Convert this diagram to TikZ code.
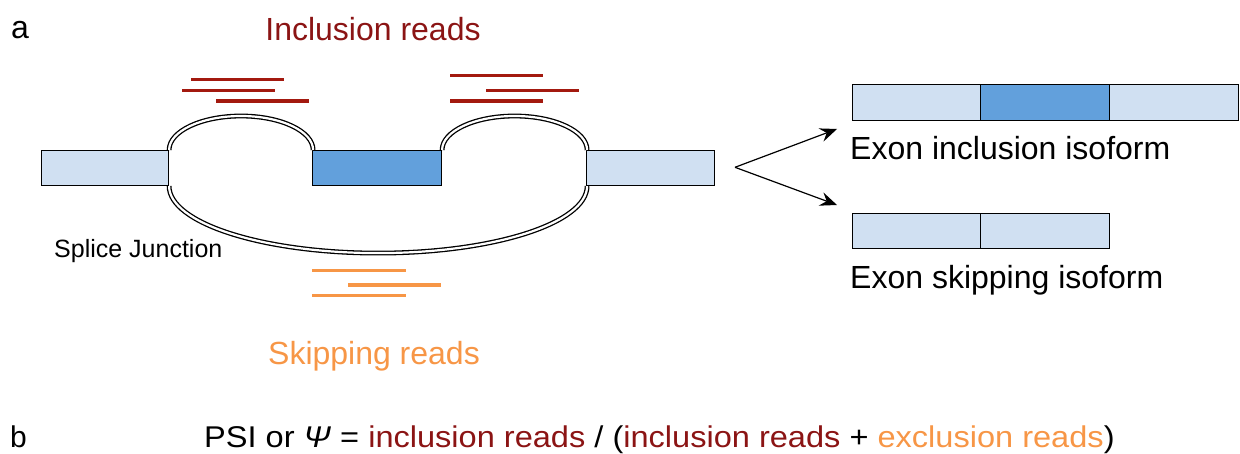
\documentclass[tikz,border=0pt]{standalone}
\usepackage{fontspec}
\setmainfont{Liberation Sans}
\usetikzlibrary{arrows.meta}
\definecolor{exonlight}{HTML}{D0E0F2}
\definecolor{exondark}{HTML}{62A0DC}
\definecolor{incltext}{HTML}{8B1414}
\definecolor{inclread}{HTML}{A3190F}
\definecolor{skipcol}{HTML}{F79646}
\tikzset{
  exon/.style={draw=black, line width=1.1pt, rectangle, inner sep=0pt, anchor=north west},
  junction/.style={draw=black, line width=1.3pt, double=white, double distance=2.2pt},
  inread/.style={draw=inclread, line width=3.3pt},
  skread/.style={draw=skipcol, line width=3.3pt},
  label/.style={inner sep=0pt, font=\fontsize{32}{38}\selectfont},
  fork/.style={line width=1.2pt, -{Stealth[length=17pt, width=14pt, inset=6pt]}},
}
\newcommand{\exonbox}[6]{% name, x, y, w, h, fill
  \node[exon, fill=#6, minimum width=#4pt, minimum height=#5pt] (#1) at (#2,#3) {};}
\begin{document}
\begin{tikzpicture}[x=1pt, y=-1pt]
\useasboundingbox (0,0) rectangle (1240,454);

% panel labels
\node[label, anchor=base west] (pa) at (11,39) {a};
\node[label, anchor=base west, font=\fontsize{30}{36}\selectfont] (pb) at (10,447) {b};

% gene model: three exons
\exonbox{ex1}{41}{150}{127}{35}{exonlight}
\exonbox{ex2}{312}{150}{129}{35}{exondark}
\exonbox{ex3}{586}{150}{128}{35}{exonlight}

% splice junctions
\draw[junction] (ex1.north east) arc[start angle=180, end angle=0, x radius=72pt, y radius=34pt];
\draw[junction] (ex2.north east) arc[start angle=180, end angle=0, x radius=72.5pt, y radius=34pt];
\draw[junction] (ex1.south east) arc[start angle=180, end angle=360, x radius=209pt, y radius=67pt];

% inclusion reads
\draw[inread] (191,79.3) -- (284,79.3);
\draw[inread] (182,90.3) -- (275,90.3);
\draw[inread] (216,101) -- (309,101);
\draw[inread] (450,75.7) -- (543,75.7);
\draw[inread] (486,90.3) -- (579,90.3);
\draw[inread] (450,101) -- (543,101);

% skipping reads
\draw[skread] (312,270.7) -- (405.7,270.7);
\draw[skread] (348,285) -- (441,285);
\draw[skread] (312,295.7) -- (405.7,295.7);

\node[label, anchor=base, text=incltext] (inclab) at (373,40.7) {Inclusion reads};
\node[label, anchor=base, text=skipcol] (skiplab) at (374,365) {Skipping reads};
\node[inner sep=0pt, anchor=base west, font=\fontsize{25}{30}\selectfont] (sj) at (54,257.3) {Splice Junction};

% the two isoforms
\coordinate (split) at (735,167.3);
\coordinate (toincl) at (837,129);
\coordinate (toskip) at (837,205);
\draw[fork] (split) -- (toincl);
\draw[fork] (split) -- (toskip);

\exonbox{i1}{852}{84}{128}{36}{exonlight}
\exonbox{i2}{980}{84}{129}{36}{exondark}
\exonbox{i3}{1109}{84}{129}{36}{exonlight}
\node[label, anchor=base west] (incliso) at (850,160) {Exon inclusion isoform};

\exonbox{s1}{852}{213.3}{128}{35}{exonlight}
\exonbox{s2}{980}{213.3}{129}{35}{exonlight}
\node[label, anchor=base west] (skipiso) at (850,288.3) {Exon skipping isoform};

% PSI definition
\node[label, anchor=base west, font=\fontsize{30}{36}\selectfont] (psi) at (204,447)
  {\scalebox{1.085}[1]{PSI or \textit{Ψ} = \textcolor{incltext}{inclusion reads} / (\textcolor{incltext}{inclusion reads} + \textcolor{skipcol}{exclusion reads})}};
\end{tikzpicture}
\end{document}
